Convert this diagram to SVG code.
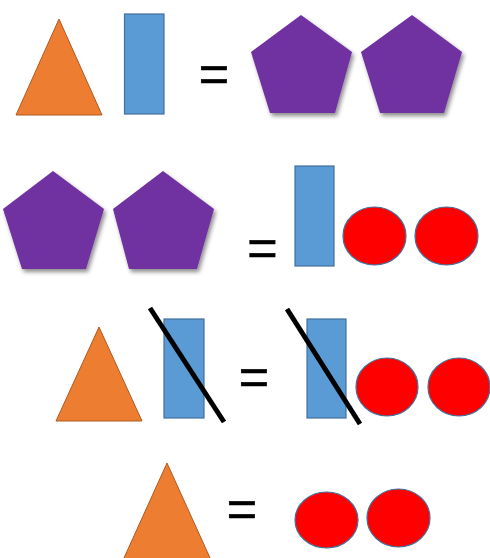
<svg xmlns="http://www.w3.org/2000/svg" width="490" height="558" viewBox="0 0 490 558">
<defs>
<filter id="sh" x="-20%" y="-20%" width="150%" height="150%">
<feDropShadow dx="2" dy="3" stdDeviation="2" flood-color="#000" flood-opacity="0.45"/>
</filter>
<style>
.tri{fill:#ED7D31;stroke:#AE5A21;stroke-width:1}
.rect{fill:#5B9BD5;stroke:#41719C;stroke-width:1.2}
.pent{fill:#7030A0;filter:url(#sh)}
.circ{fill:#FF0000;stroke:#41719C;stroke-width:1.2}
.slash{stroke:#000;stroke-width:5;fill:none}
.eq{font-family:"Liberation Sans",Arial,sans-serif;font-size:52px;fill:#000;stroke:#000;stroke-width:0.7;text-anchor:middle}
</style>
</defs>
<rect width="490" height="558" fill="#fff"/>
<g id="row1">
<g id="tri1"><polygon class="tri" points="59,19 102,115 16,115"/></g>
<g id="rect1"><rect class="rect" x="124.5" y="14" width="39.5" height="100"/></g>
<g id="eq1"><text class="eq" x="214" y="92">=</text></g>
<g id="pent1"><polygon class="pent" points="301,15 352,52 335,113 270,113 251,52"/></g>
<g id="pent2"><polygon class="pent" points="412,15 462,52 444,113 380,113 361,52"/></g>
</g>
<g id="row2">
<g id="pent3"><polygon class="pent" points="53,171 104,209 86,269 22,269 3,209"/></g>
<g id="pent4"><polygon class="pent" points="163,171 214,209 197,269 129,269 113,209"/></g>
<g id="eq2"><text class="eq" x="262.5" y="265.5">=</text></g>
<g id="rect2"><rect class="rect" x="295" y="166" width="39" height="100"/></g>
<g id="circ1"><ellipse class="circ" cx="374.5" cy="236" rx="31.5" ry="29"/></g>
<g id="circ2"><ellipse class="circ" cx="446.5" cy="236" rx="31.5" ry="29"/></g>
</g>
<g id="row3">
<g id="tri2"><polygon class="tri" points="99,327 142,421 56,421"/></g>
<g id="rect3"><rect class="rect" x="164" y="319" width="40" height="99"/><line class="slash" x1="150" y1="308" x2="224" y2="422"/></g>
<g id="eq3"><text class="eq" x="254" y="394.5">=</text></g>
<g id="rect4"><rect class="rect" x="307" y="319" width="39" height="99"/><line class="slash" x1="287" y1="309" x2="360" y2="424"/></g>
<g id="circ3"><ellipse class="circ" cx="387" cy="387" rx="31" ry="29"/></g>
<g id="circ4"><ellipse class="circ" cx="459" cy="387" rx="31" ry="29"/></g>
</g>
<g id="row4">
<g id="tri3"><polygon class="tri" points="167,463 210.5,559 123.5,559"/></g>
<g id="eq4"><text class="eq" x="242" y="526.5">=</text></g>
<g id="circ5"><ellipse class="circ" cx="326.5" cy="520" rx="31.5" ry="28"/></g>
<g id="circ6"><ellipse class="circ" cx="398.5" cy="518" rx="31.5" ry="29"/></g>
</g>
</svg>
